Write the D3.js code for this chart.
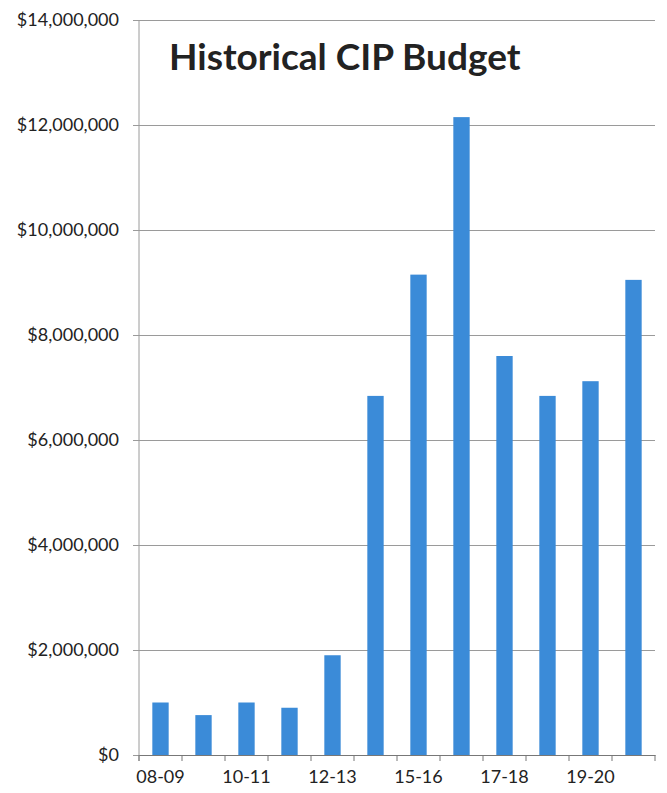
<!DOCTYPE html>
<html>
<head>
<meta charset="utf-8">
<script src="https://cdn.jsdelivr.net/npm/d3@7"></script>
<style>
  body { margin: 0; background: #fff; }
  text { font-family: Lato, "Open Sans", sans-serif; fill: #222; }
</style>
</head>
<body>
<div id="d3-container"></div>
<script>
/**
 * DATA
 * */
const years = ["08-09", "09-10", "10-11", "11-12", "12-13", "14-15",
  "15-16", "16-17", "17-18", "18-19", "19-20", "20-21"];
const budget = [1000000, 760000, 1000000, 900000, 1900000, 6840000,
  9150000, 12150000, 7600000, 6840000, 7120000, 9050000];
const yTicks = [0, 2000000, 4000000, 6000000, 8000000, 10000000, 12000000, 14000000];
const shownLabels = ["08-09", "10-11", "12-13", "15-16", "17-18", "19-20"];

const width = 667, height = 793,
  margin = { top: 20, bottom: 38, left: 139, right: 12 };

const svg = d3.select("#d3-container")
  .append("svg")
  .attr("width", width)
  .attr("height", height);

const x = d3.scaleBand()
  .domain(years)
  .range([margin.left, width - margin.right])
  .paddingInner(0.62)
  .paddingOuter(0.31);

const y = d3.scaleLinear()
  .domain([0, 14000000])
  .range([height - margin.bottom, margin.top]);

// gridlines + y labels
const fmt = d => "$" + d3.format(",")(d);
svg.append("g")
  .attr("transform", `translate(${margin.left},0)`)
  .call(d3.axisLeft(y).tickValues(yTicks).tickFormat(fmt)
    .tickSize(-(width - margin.left - margin.right)).tickPadding(20))
  .call(g => g.select(".domain").remove())
  .call(g => g.selectAll(".tick line").attr("stroke", "#9a9a9a").attr("x1", -6))
  .call(g => g.selectAll(".tick text").attr("font-size", 18).attr("dy", "0.32em"));

// y axis line
svg.append("line")
  .attr("x1", margin.left).attr("x2", margin.left)
  .attr("y1", y(14000000)).attr("y2", y(0) + 6)
  .attr("stroke", "#9a9a9a");

// bars
svg.selectAll("rect.bar")
  .data(budget)
  .join("rect")
  .attr("class", "bar")
  .attr("x", (d, i) => x(years[i]))
  .attr("y", d => y(d))
  .attr("width", x.bandwidth())
  .attr("height", d => y(0) - y(d))
  .attr("fill", "#3b8bd8");

// x axis
const step = x.step();
svg.append("g")
  .attr("transform", `translate(0,${y(0)})`)
  .call(d3.axisBottom(x).tickSize(0).tickPadding(15)
    .tickFormat(d => shownLabels.includes(d) ? d : ""))
  .call(g => g.select(".domain").attr("stroke", "#777"))
  .call(g => g.selectAll(".tick text").attr("font-size", 18));

// boundary ticks
svg.append("g")
  .selectAll("line")
  .data(d3.range(years.length + 1))
  .join("line")
  .attr("x1", i => margin.left + i * step)
  .attr("x2", i => margin.left + i * step)
  .attr("y1", y(0))
  .attr("y2", y(0) + 6)
  .attr("stroke", "#777");

// title
svg.append("text")
  .attr("x", 169)
  .attr("y", 70)
  .attr("font-size", 37)
  .attr("font-weight", 700)
  .text("Historical CIP Budget");
</script>
</body>
</html>
